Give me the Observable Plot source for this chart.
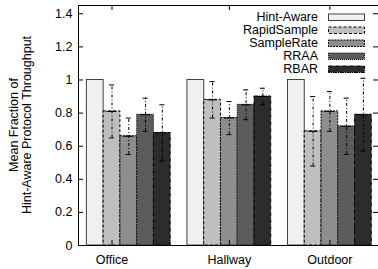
<!DOCTYPE html>
<html>
<head>
<meta charset="utf-8">
<script src="https://cdn.jsdelivr.net/npm/d3@7"></script>
<script src="https://cdn.jsdelivr.net/npm/@observablehq/plot@0.6"></script>
<style>
  html, body { margin: 0; padding: 0; background: #fff; }
  svg { display: block; }
</style>
</head>
<body>
<div id="chart"></div>
<script>
const groups = ["Office", "Hallway", "Outdoor"];
const series = ["Hint-Aware", "RapidSample", "SampleRate", "RRAA", "RBAR"];

const officeMean  = [1.00, 0.81, 0.66, 0.79, 0.68];
const officeLo    = [null, 0.65, 0.55, 0.69, 0.51];
const officeHi    = [null, 0.97, 0.77, 0.89, 0.85];

const hallwayMean = [1.00, 0.88, 0.77, 0.85, 0.90];
const hallwayLo   = [null, 0.77, 0.67, 0.76, 0.85];
const hallwayHi   = [null, 0.99, 0.87, 0.94, 0.95];

const outdoorMean = [1.00, 0.69, 0.81, 0.72, 0.79];
const outdoorLo   = [null, 0.48, 0.69, 0.55, 0.57];
const outdoorHi   = [null, 0.90, 0.93, 0.89, 1.01];

const yTicks = [0, 0.2, 0.4, 0.6, 0.8, 1.0, 1.2, 1.4];
const yTickLabels = ["0", "0.2", "0.4", "0.6", "0.8", "1", "1.2", "1.4"];
const xTickPos = [1.5, 8.5, 14.5];

const fills = ["#f0f0f0", "#bfbfbf", "#8e8e8e", "#5c5c5c", "#2c2c2c"];
const strokes = ["#404040", "#000", "#000", "#000", "#000"];
const dashes = [null, "3,2", "2,1", "1,1", "4,1,1,1"];

const means = [officeMean, hallwayMean, outdoorMean];
const los = [officeLo, hallwayLo, outdoorLo];
const his = [officeHi, hallwayHi, outdoorHi];

const slotsPerGroup = series.length + 1;
const rows = [];
groups.forEach((g, gi) => {
  series.forEach((s, si) => {
    const x1 = gi * slotsPerGroup + si;
    rows.push({group: g, series: s, si, x1, x2: x1 + 1, xc: x1 + 0.5,
      value: means[gi][si], lo: los[gi][si], hi: his[gi][si]});
  });
});
const errRows = rows.filter(r => r.lo != null);

const X0 = -0.5, X1 = 17.4, Y1 = 1.45;
const tickLenX = 0.3;   // in slot units (~5px)
const tickLenY = 0.03;  // in value units (~5px)

const plot = Plot.plot({
  width: 378,
  height: 269,
  marginLeft: 78,
  marginRight: 0,
  marginTop: 5,
  marginBottom: 24,
  style: {fontFamily: "'Liberation Sans', Arial, sans-serif", fontSize: "12px", color: "#000", background: "#fff", overflow: "visible"},
  x: {type: "linear", domain: [X0, X1], axis: null},
  y: {type: "linear", domain: [0, Y1], axis: null},
  marks: [
    ...series.map((s, i) => Plot.rect(rows.filter(r => r.si === i), {
      x1: "x1", x2: "x2", y1: 0, y2: "value",
      fill: fills[i], stroke: strokes[i], strokeWidth: 1,
      strokeDasharray: dashes[i] || undefined
    })),
    Plot.ruleX(errRows, {x: "xc", y1: "lo", y2: "hi", stroke: "#000", strokeWidth: 1, strokeDasharray: "3,2,1,2"}),
    Plot.ruleY(errRows, {y: "lo", x1: d => d.xc - 0.15, x2: d => d.xc + 0.15, stroke: "#000", strokeWidth: 1}),
    Plot.ruleY(errRows, {y: "hi", x1: d => d.xc - 0.15, x2: d => d.xc + 0.15, stroke: "#000", strokeWidth: 1}),
    Plot.ruleY(errRows, {y: "value", x1: d => d.xc - 0.3, x2: d => d.xc + 0.3, stroke: "#000", strokeWidth: 1}),
    // y ticks (left and mirrored right), pointing inward
    Plot.ruleY(yTicks, {y: d => d, x1: X0, x2: X0 + tickLenX, stroke: "#000"}),
    Plot.ruleY(yTicks, {y: d => d, x1: X1 - tickLenX, x2: X1, stroke: "#000"}),
    // x ticks (bottom and mirrored top)
    Plot.ruleX(xTickPos, {x: d => d, y1: 0, y2: tickLenY, stroke: "#000"}),
    Plot.ruleX(xTickPos, {x: d => d, y1: Y1 - tickLenY, y2: Y1, stroke: "#000"}),
    Plot.frame({stroke: "#000", strokeWidth: 1}),
    Plot.text(yTicks, {x: X0, y: d => d, text: (d, i) => yTickLabels[i], textAnchor: "end", dx: -6, fontSize: 12.5, fill: "#000"}),
    Plot.text(groups, {x: (d, i) => xTickPos[i], y: 0, text: d => d, dy: 14, lineAnchor: "middle", fontSize: 12.5, fill: "#000"})
  ]
});

const svg = d3.select(plot);
// Y-axis title (two lines)
const title = svg.append("text")
  .attr("transform", "translate(20,125) rotate(-90)")
  .attr("text-anchor", "middle")
  .attr("font-size", 12.5)
  .attr("fill", "#000");
title.append("tspan").attr("x", 0).attr("dy", "-0.15em").text("Mean Fraction of");
title.append("tspan").attr("x", 0).attr("dy", "1.05em").text("Hint-Aware Protocol Throughput");

// Legend
const leg = svg.append("g").attr("font-size", 12.5).attr("fill", "#000");
series.forEach((s, i) => {
  const cy = 17 + i * 13;
  leg.append("text").attr("x", 318).attr("y", cy).attr("dy", "0.35em")
    .attr("text-anchor", "end").text(s);
  leg.append("rect").attr("x", 328.5).attr("y", cy - 3).attr("width", 36).attr("height", 6.5)
    .attr("fill", fills[i]).attr("stroke", strokes[i]).attr("stroke-width", 1)
    .attr("stroke-dasharray", dashes[i]);
});

document.getElementById("chart").appendChild(plot);
</script>
</body>
</html>
